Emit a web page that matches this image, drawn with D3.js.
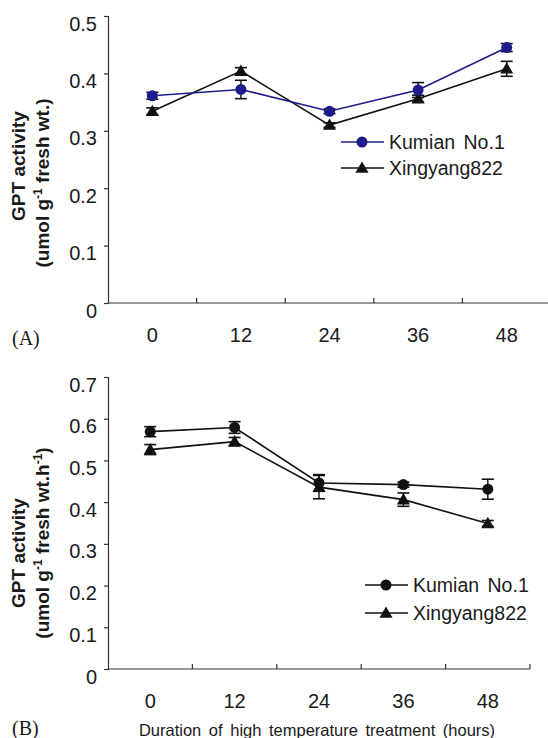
<!DOCTYPE html>
<html lang="en">
<head>
  <meta charset="UTF-8">
  <title>GPT activity under high temperature</title>
  <script src="https://d3js.org/d3.v7.min.js"></script>
  <style>
    body { margin: 0; background: #fff; }
    svg { display: block; font-family: "Liberation Sans", Arial, sans-serif; }
  </style>
</head>
<body>
  <div id="chart"></div>
  <script>
    const hours = ["0", "12", "24", "36", "48"];
    const seriesNames = ["Kumian No.1", "Xingyang822"];

    // panel A
    const kumianA = [0.361, 0.372, 0.334, 0.371, 0.445];
    const kumianAErr = [0.006, 0.016, 0.004, 0.013, 0.007];
    const xingyangA = [0.334, 0.404, 0.310, 0.356, 0.408];
    const xingyangAErr = [0.006, 0.006, 0.004, 0.006, 0.013];
    const ticksA = [0, 0.1, 0.2, 0.3, 0.4, 0.5];

    // panel B
    const kumianB = [0.569, 0.579, 0.446, 0.442, 0.431];
    const kumianBErr = [0.012, 0.014, 0.020, 0.006, 0.024];
    const xingyangB = [0.526, 0.545, 0.436, 0.406, 0.349];
    const xingyangBErr = [0.012, 0.010, 0.028, 0.016, 0.007];
    const ticksB = [0, 0.1, 0.2, 0.3, 0.4, 0.5, 0.6, 0.7];

    const W = 548, H = 738;
    const svg = d3.select("#chart").append("svg")
      .attr("width", W).attr("height", H);

    const circleSym = d3.symbol().type(d3.symbolCircle).size(95);
    const triSym = d3.symbol().type(d3.symbolTriangle).size(75);

    function panel(o) {
      const x = d3.scaleBand().domain(hours).range([108, o.right]);
      const y = d3.scaleLinear().domain([0, o.max]).range([o.bottom, o.top]);
      const g = svg.append("g");

      // y axis
      const yAxis = d3.axisLeft(y).tickValues(o.ticks).tickSize(4).tickPadding(7)
        .tickFormat(d => d === 0 ? "0" : d3.format(".1f")(d));
      const ya = g.append("g").attr("transform", "translate(108,0)").call(yAxis);
      ya.select(".domain").attr("stroke", "#333").attr("stroke-width", 1.2);
      ya.selectAll(".tick line").attr("stroke", "#333").attr("stroke-width", 1.2);
      ya.selectAll("text").attr("font-size", 20).attr("fill", "#1a1a1a").attr("dy", "0.7em")
        .attr("font-family", "Liberation Sans, Arial, sans-serif");

      // x axis (ticks inward at category boundaries)
      const xa = g.append("g").attr("transform", `translate(0,${o.bottom})`);
      xa.append("line").attr("x1", 108).attr("x2", o.right)
        .attr("stroke", "#333").attr("stroke-width", 1.2);
      const bounds = hours.slice(1).map(h => x(h));
      if (o.endTick) bounds.push(o.right);
      xa.selectAll(".bt").data(bounds).enter().append("line")
        .attr("x1", d => d).attr("x2", d => d).attr("y1", 0).attr("y2", -5)
        .attr("stroke", "#333").attr("stroke-width", 1.2);
      g.selectAll(".xl").data(hours).enter().append("text")
        .attr("x", d => x(d) + x.bandwidth() / 2).attr("y", o.bottom + o.xLabelDy)
        .attr("text-anchor", "middle").attr("font-size", 20).attr("fill", "#1a1a1a")
        .text(d => d);

      // y title
      g.append("text")
        .attr("transform", `translate(25,${o.t1y}) rotate(-90)`)
        .attr("text-anchor", "middle").attr("font-size", 19).attr("font-weight", "bold")
        .attr("fill", "#1a1a1a").text("GPT activity");
      const t2 = g.append("text")
        .attr("transform", `translate(49,${o.t2y}) rotate(-90)`)
        .attr("text-anchor", "middle").attr("font-size", 19).attr("font-weight", "bold")
        .attr("fill", "#1a1a1a");
      t2.append("tspan").text("(umol g");
      t2.append("tspan").attr("font-size", 12).attr("dy", -7).text("-1");
      t2.append("tspan").attr("dy", 7).text(o.unitTail);
      if (o.unitSup) {
        t2.append("tspan").attr("font-size", 12).attr("dy", -7).text(o.unitSup);
        t2.append("tspan").attr("dy", 7).text(")");
      }

      // panel letter
      g.append("text").attr("x", 12).attr("y", o.letterY)
        .attr("font-family", "Liberation Serif, Times New Roman, serif")
        .attr("font-size", 20).attr("fill", "#1a1a1a").text(o.letter);

      const cx = d => x(d) + x.bandwidth() / 2;
      const series = [
        { name: seriesNames[0], vals: o.k, err: o.kErr, color: o.kColor, sym: circleSym },
        { name: seriesNames[1], vals: o.xv, err: o.xErr, color: "#111", sym: triSym }
      ];

      const line = d3.line().x(d => cx(d.h)).y(d => y(d.v));
      series.slice().reverse().forEach(s => {
        const pts = hours.map((h, i) => ({ h, v: s.vals[i], e: s.err[i] }));
        g.append("path").datum(pts).attr("d", line)
          .attr("fill", "none").attr("stroke", s.color).attr("stroke-width", 1.6);
        const eb = g.append("g");
        pts.forEach(p => {
          const xx = cx(p.h);
          eb.append("line").attr("x1", xx).attr("x2", xx)
            .attr("y1", y(p.v - p.e)).attr("y2", y(p.v + p.e))
            .attr("stroke", "#111").attr("stroke-width", 1.4);
          [p.v - p.e, p.v + p.e].forEach(v => {
            eb.append("line").attr("x1", xx - 6).attr("x2", xx + 6)
              .attr("y1", y(v)).attr("y2", y(v))
              .attr("stroke", "#111").attr("stroke-width", 1.6);
          });
        });
        g.selectAll(null).data(pts).enter().append("path")
          .attr("d", s.sym)
          .attr("transform", d => `translate(${cx(d.h)},${y(d.v) + (s.sym === triSym ? 1 : 0)})`)
          .attr("fill", s.color);
      });

      // legend
      series.forEach((s, i) => {
        const ly = o.legY + i * o.legGap;
        g.append("line").attr("x1", o.legX).attr("x2", o.legX + 43)
          .attr("y1", ly).attr("y2", ly).attr("stroke", s.color).attr("stroke-width", 1.6);
        g.append("path").attr("d", s.sym)
          .attr("transform", `translate(${o.legX + 21},${ly + (s.sym === triSym ? 1 : 0)})`)
          .attr("fill", s.color);
        g.append("text").attr("x", o.legX + 48).attr("y", ly + 7)
          .attr("font-size", 19.5).attr("fill", "#1a1a1a").attr("word-spacing", 3).text(s.name);
      });
    }

    panel({
      top: 16, bottom: 303, right: 551, max: 0.5, ticks: ticksA,
      k: kumianA, kErr: kumianAErr, xv: xingyangA, xErr: xingyangAErr,
      kColor: "#1c1c8a", endTick: false, xLabelDy: 39,
      t1y: 166, t2y: 183, unitTail: " fresh wt.)", unitSup: null,
      letter: "(A)", letterY: 345,
      legX: 341, legY: 142, legGap: 26
    });

    panel({
      top: 377, bottom: 669, right: 530, max: 0.7, ticks: ticksB,
      k: kumianB, kErr: kumianBErr, xv: xingyangB, xErr: xingyangBErr,
      kColor: "#111", endTick: true, xLabelDy: 39,
      t1y: 553, t2y: 543, unitTail: " fresh wt.h", unitSup: "-1",
      letter: "(B)", letterY: 735,
      legX: 365, legY: 585, legGap: 28
    });

    svg.append("text").attr("x", 317).attr("y", 736)
      .attr("text-anchor", "middle").attr("font-size", 16.5).attr("word-spacing", 3)
      .attr("fill", "#1a1a1a").text("Duration of high temperature treatment (hours)");
  </script>
</body>
</html>
